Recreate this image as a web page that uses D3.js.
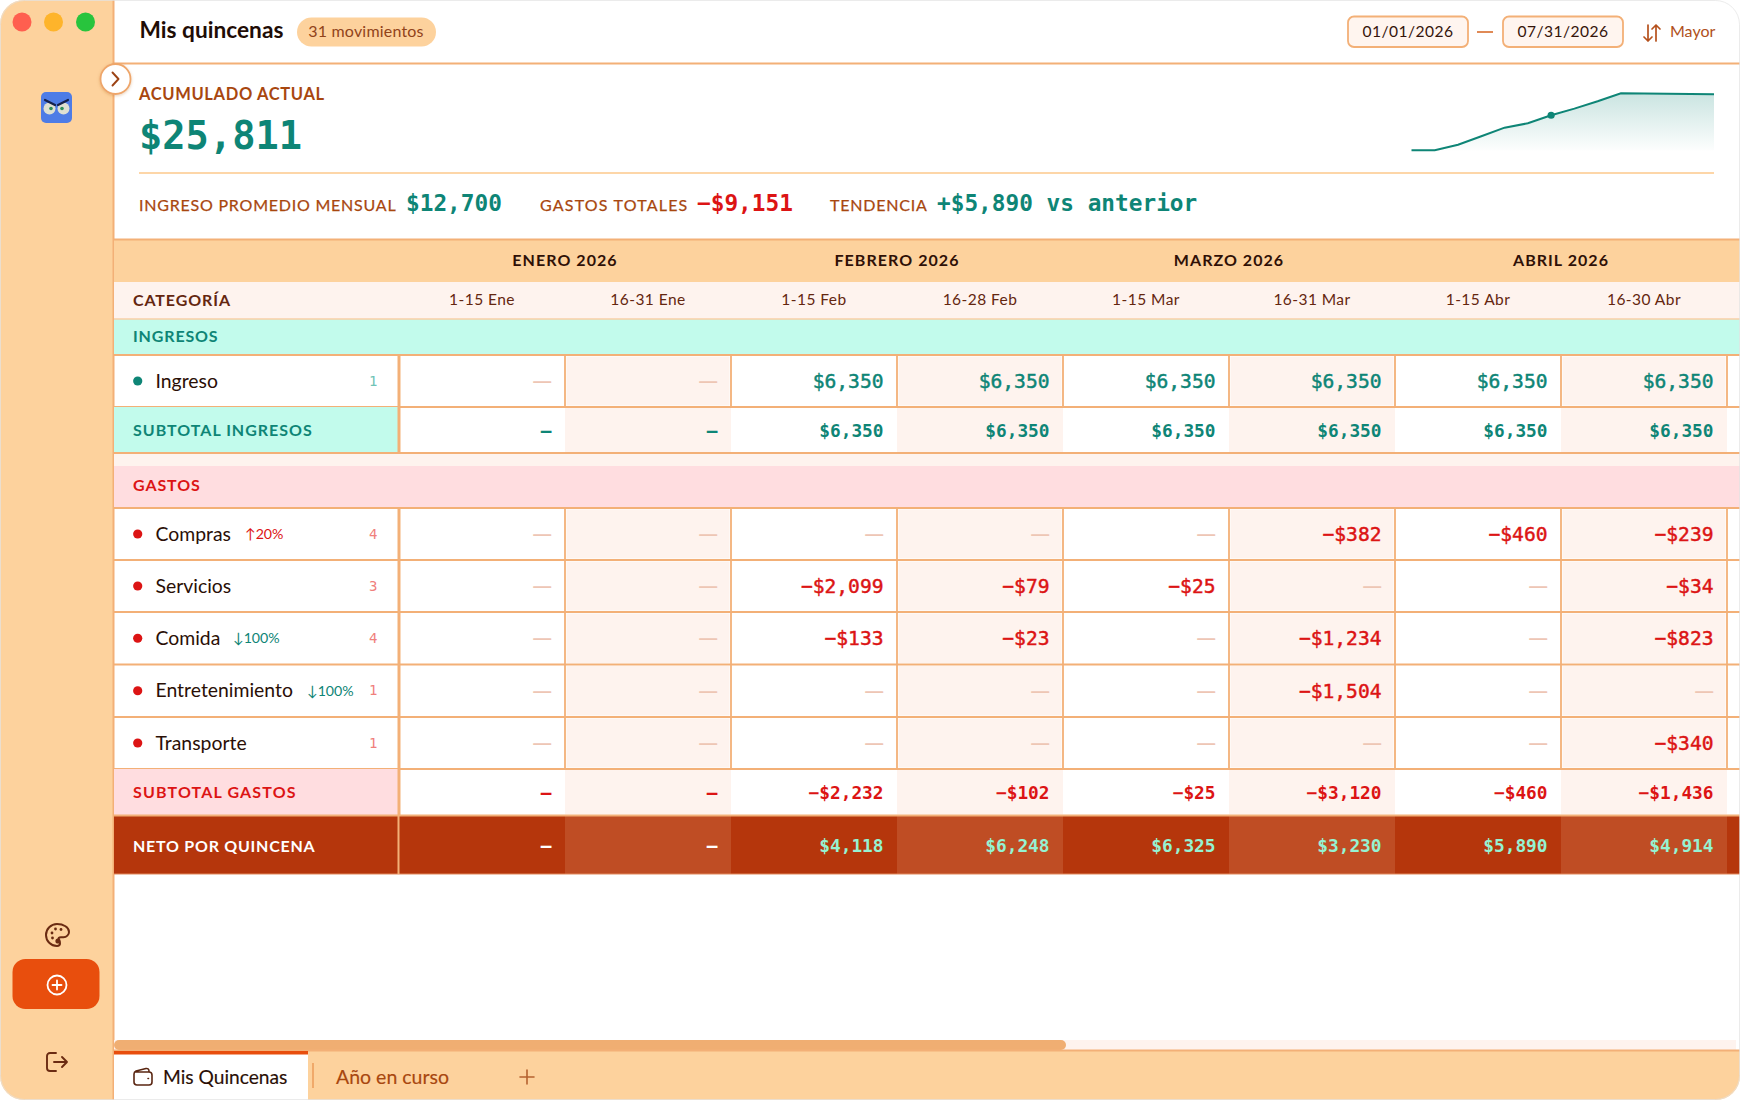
<!DOCTYPE html>
<html lang="es">
<head>
<meta charset="utf-8">
<title>Mis quincenas</title>
<script src="https://cdn.jsdelivr.net/npm/d3@7/dist/d3.min.js"></script>
<style>html,body{margin:0;padding:0;background:#fff}svg{display:block}</style>
</head>
<body>
<svg id="app" width="1740" height="1100" xmlns="http://www.w3.org/2000/svg"></svg>
<script>
// ---- data ----
const months = ["ENERO 2026", "FEBRERO 2026", "MARZO 2026", "ABRIL 2026"];
const fortnights = ["1-15 Ene", "16-31 Ene", "1-15 Feb", "16-28 Feb", "1-15 Mar", "16-31 Mar", "1-15 Abr", "16-30 Abr"];
const ingreso = [null, null, 6350, 6350, 6350, 6350, 6350, 6350];
const subtotalIngresos = [0, 0, 6350, 6350, 6350, 6350, 6350, 6350];
const compras = [null, null, null, null, null, -382, -460, -239];
const servicios = [null, null, -2099, -79, -25, null, null, -34];
const comida = [null, null, -133, -23, null, -1234, null, -823];
const entretenimiento = [null, null, null, null, null, -1504, null, null];
const transporte = [null, null, null, null, null, null, null, -340];
const subtotalGastos = [0, 0, -2232, -102, -25, -3120, -460, -1436];
const netoQuincena = [0, 0, 4118, 6248, 6325, 3230, 5890, 4914];
const acumulado = [0, 0, 4118, 10366, 16691, 19921, 25811, 30725, 36100, 42000, 41900, 41600, 41500, 41300];
const acumuladoActualIndex = 6;
const gastoRows = [
  {name: "Compras", vals: compras, count: 4, badge: "↑20%", dir: "up"},
  {name: "Servicios", vals: servicios, count: 3},
  {name: "Comida", vals: comida, count: 4, badge: "↓100%", dir: "down"},
  {name: "Entretenimiento", vals: entretenimiento, count: 1, badge: "↓100%", dir: "down"},
  {name: "Transporte", vals: transporte, count: 1}
];

// ---- palette / fonts ----
const SANS = "Lato, 'Noto Sans', sans-serif", MONO = "'DejaVu Sans Mono', monospace";
const PEACH = "#fdd29d", LINE = "#f3b077", TINT = "#fef3ee", TEAL = "#0e8576", RED = "#dc1414",
      MINT = "#c2fbec", ROSE = "#ffdde0", BROWN = "#a8470f", DARK = "#35140a", NET = "#b5360c", NET2 = "#bf4d24";

const svg = d3.select("#app");
const defs = svg.append("defs");
defs.append("clipPath").attr("id", "win").append("rect").attr("width", 1740).attr("height", 1100).attr("rx", 24);
const grad = defs.append("linearGradient").attr("id", "spark").attr("x1", 0).attr("y1", 0).attr("x2", 0).attr("y2", 1);
grad.append("stop").attr("offset", "0%").attr("stop-color", TEAL).attr("stop-opacity", 0.22);
grad.append("stop").attr("offset", "100%").attr("stop-color", TEAL).attr("stop-opacity", 0.01);
const shadow = defs.append("filter").attr("id", "sh").attr("x", "-30%").attr("y", "-30%").attr("width", "160%").attr("height", "160%");
shadow.append("feDropShadow").attr("dx", 0).attr("dy", 1).attr("stdDeviation", 1.5).attr("flood-color", "#b06020").attr("flood-opacity", .3);

const root = svg.append("g").attr("clip-path", "url(#win)");
root.append("rect").attr("width", 1740).attr("height", 1100).attr("fill", "#fff");

function rect(x, y, w, h, fill, o = {}) {
  return root.append("rect").attr("x", x).attr("y", y).attr("width", w).attr("height", h).attr("fill", fill)
    .attr("rx", o.rx || 0).attr("stroke", o.stroke || "none").attr("stroke-width", o.sw || 0);
}
function hline(x1, x2, y, c = LINE, w = 2) {
  root.append("line").attr("x1", x1).attr("x2", x2).attr("y1", y).attr("y2", y).attr("stroke", c).attr("stroke-width", w);
}
function vline(x, y1, y2, c = LINE, w = 2) {
  root.append("line").attr("x1", x).attr("x2", x).attr("y1", y1).attr("y2", y2).attr("stroke", c).attr("stroke-width", w);
}
function text(x, y, s, o = {}) {
  const t = root.append("text").attr("x", x).attr("y", y).text(s)
    .attr("font-family", o.font || SANS).attr("font-size", o.size || 16).attr("font-weight", o.weight || 400)
    .attr("fill", o.fill || DARK).attr("text-anchor", o.anchor || "start")
    .attr("letter-spacing", o.ls || 0).style("white-space", "pre");
  if (o.heavy) t.attr("stroke", o.fill || DARK).attr("stroke-width", o.heavy);
  return t;
}
function icon(d, tx, ty, c, w = 1.8, fill = "none") {
  return root.append("path").attr("d", d).attr("transform", `translate(${tx},${ty})`)
    .attr("fill", fill).attr("stroke", c).attr("stroke-width", w).attr("stroke-linecap", "round").attr("stroke-linejoin", "round");
}

// ---- sidebar ----
rect(0, 0, 113, 1100, PEACH);
vline(113.5, 0, 1100, LINE, 2);
[["#ff5f4f", 22], ["#feb42b", 53.5], ["#28c43d", 85.5]].forEach(([c, x]) =>
  root.append("circle").attr("cx", x).attr("cy", 22).attr("r", 9.5).attr("fill", c));

// owl logo
rect(41, 92, 31, 31, "#4e7ce6", {rx: 5});
[49.5, 63.5].forEach(x => {
  root.append("circle").attr("cx", x).attr("cy", 108.5).attr("r", 6).attr("fill", "#dfe0d2");
  root.append("circle").attr("cx", x + (x < 56 ? 1.5 : -1.5)).attr("cy", 108.5).attr("r", 1.8).attr("fill", "#2f8f5a");
});
icon("M0 0 L10 5", 45, 100, "#16214a", 2.2);
icon("M0 5 L10 0", 58, 100, "#16214a", 2.2);

// palette
icon("M11 0C4.9 0 0 4.9 0 11s4.9 11 11 11c1.8 0 3-1.2 3-2.8 0-.8-.3-1.4-.8-2-.5-.5-.8-1-.8-1.7 0-1.4 1.1-2.3 2.5-2.3h2.6c3 0 5.5-2.4 5.5-5.3C23 3.4 17.6 0 11 0z", 46, 924, "#6a2b12", 2);
[[6, 9], [9.5, 5], [15, 5.5], [6.5, 14], [12, 17]].forEach(([x, y], i) =>
  root.append("circle").attr("cx", 46 + x).attr("cy", 924 + y).attr("r", i === 4 ? 2.6 : 1.4).attr("fill", "#6a2b12"));

// add button
rect(12.5, 959, 87, 50, "#e84e0d", {rx: 13});
root.append("circle").attr("cx", 57).attr("cy", 985).attr("r", 9.5).attr("fill", "none").attr("stroke", "#fff").attr("stroke-width", 1.8);
icon("M-4.5 0H4.5M0 -4.5V4.5", 57, 985, "#fff", 1.8);

// logout
icon("M9 0H3C1.3 0 0 1.3 0 3V15C0 16.7 1.3 18 3 18H9M7 9H20M15 4L20 9L15 14", 47, 1053, "#6a2b12", 1.9);

// ---- header ----
text(139.5, 37.5, "Mis quincenas", {size: 22.7, weight: 700, fill: "#1f0d06"});
rect(297, 17.5, 139, 29, PEACH, {rx: 14.5});
text(366, 37, "31 movimientos", {size: 16, fill: "#91431a", anchor: "middle", ls: .2});
[[1348, "01/01/2026"], [1503, "07/31/2026"]].forEach(([x, s]) => {
  rect(x, 16.5, 120, 30.5, "#fff5ef", {rx: 6, stroke: LINE, sw: 1.8});
  text(x + 60, 37, s, {size: 15.6, fill: DARK, anchor: "middle", ls: .45});
});
hline(1477, 1493, 32, "#e08a56", 2);
icon("M5 1V17M1 13L5 17L9 13", 1643, 24, "#b5501c", 1.7);
icon("M13 17V1M9 5L13 1L17 5", 1643, 24, "#b5501c", 1.7);
text(1670, 37, "Mayor", {size: 16, fill: "#b0501c"});
hline(114, 1740, 63.5, LINE, 2);

// toggle button
root.append("circle").attr("cx", 115.5).attr("cy", 79).attr("r", 15).attr("fill", "#fff").attr("stroke", "#eea66b").attr("stroke-width", 1.8).attr("filter", "url(#sh)");
icon("M0 0L6 6.5L0 13", 112.5, 72.5, "#9c4315", 1.9);

// ---- KPI block ----
text(139, 99.5, "ACUMULADO ACTUAL", {size: 16.5, weight: 700, fill: BROWN, ls: .65});
text(139, 149, "$25,811", {font: MONO, size: 38.7, weight: 700, fill: TEAL});
hline(139, 1714, 173, "#fdd6a8", 2);
const statLabel = {size: 16, fill: BROWN, heavy: .25};
const statVal = {font: MONO, size: 22.75, weight: 700};
text(139, 211, "INGRESO PROMEDIO MENSUAL", {...statLabel, ls: .78});
text(406, 211, "$12,700", {...statVal, fill: TEAL});
text(540, 211, "GASTOS TOTALES", {...statLabel, ls: 1.2});
text(697, 211, "−$9,151", {...statVal, fill: RED});
text(830, 211, "TENDENCIA", {...statLabel, ls: .8});
text(937, 211, "+$5,890 vs anterior", {...statVal, fill: TEAL});

// sparkline
const sx = d3.scalePoint().domain(d3.range(acumulado.length)).range([1411.5, 1714]);
const sy = d3.scaleLinear().domain([0, 42000]).range([150.3, 93.3]);
const area = d3.area().x((d, i) => sx(i)).y0(150.5).y1(d => sy(d));
const line = d3.line().x((d, i) => sx(i)).y(d => sy(d));
root.append("path").datum(acumulado).attr("d", area).attr("fill", "url(#spark)");
root.append("path").datum(acumulado).attr("d", line).attr("fill", "none").attr("stroke", TEAL).attr("stroke-width", 2);
root.append("circle").attr("cx", sx(acumuladoActualIndex)).attr("cy", sy(acumulado[acumuladoActualIndex])).attr("r", 3.6).attr("fill", TEAL);

// ---- table ----
const LEFT = 114, COLX = 399, END = 1740;
const x = d3.scaleBand().domain(fortnights).range([COLX, 1727]);
const rowNames = ["month", "sub", "ing", "ingreso", "subI", "spacer", "gas", ...gastoRows.map(r => r.name), "subG", "net"];
const rowTops = [239, 282, 319, 355, 407, 453, 466, 508, 560, 612, 664.5, 717, 769, 815.5];
const rowEnds = [282, 319, 355, 407, 453, 466, 508, 560, 612, 664.5, 717, 769, 815.5, 874];
const yTop = d3.scaleOrdinal().domain(rowNames).range(rowTops);
const yEnd = d3.scaleOrdinal().domain(rowNames).range(rowEnds);
const W = END - LEFT;

rect(LEFT, yTop("month"), W, 43, PEACH);
hline(LEFT, END, 239.5, LINE, 2);
rect(LEFT, yTop("sub"), W, 37, TINT);
rect(LEFT, yTop("ing"), W, 36, MINT);
hline(LEFT, END, 319, "#f9cfa6", 1.5);
rect(LEFT, yTop("spacer"), W, 13, TINT);
rect(LEFT, yTop("gas"), W, 42, ROSE);

months.forEach((m, i) => {
  const cx = x(fortnights[i * 2]) + x.bandwidth();
  text(cx, 266, m, {size: 16, weight: 700, anchor: "middle", fill: "#2f1006", ls: 1.05});
});
text(133, 305.5, "CATEGORÍA", {size: 16, weight: 700, fill: "#64260f", ls: .9});
fortnights.forEach(f => text(x(f) + x.bandwidth() / 2, 305, f, {size: 15.5, fill: "#64260f", anchor: "middle", ls: .45}));
text(133, 342, "INGRESOS", {size: 16, weight: 700, fill: TEAL, ls: .85});
text(133, 491, "GASTOS", {size: 16, weight: 700, fill: RED, ls: .9});

const VALFS = 19.6, BOLDFS = 17.8, PAD = 13.5;
const money = d3.format(",");
const fmt = v => (v < 0 ? "−$" : "$") + money(Math.abs(v));

function detailRow(key, name, vals, count, color, countColor, badge, dir, badgeX) {
  const t = yTop(key), b = yEnd(key), my = (t + b) / 2;
  fortnights.forEach((f, i) => {
    if (i % 2) rect(x(f) + 1.5, t + 1.5, x.bandwidth() - 3, b - t - 3, TINT);
  });
  root.append("circle").attr("cx", 137.7).attr("cy", my).attr("r", 4.6).attr("fill", color);
  text(155.5, my + 6.5, name, {size: 19.4, fill: "#2a0f06"});
  text(377.5, my + 4.5, count, {font: MONO, size: 14, fill: countColor, anchor: "end"});
  if (badge) text(badgeX, my + 4.8, badge, {size: 14.2, fill: dir === "up" ? RED : TEAL});
  fortnights.forEach((f, i) => {
    const rx = x(f) + x.bandwidth() - PAD, v = vals[i];
    if (v === null) text(rx + 1.5, my + 9, "—", {size: 27, fill: "#eec6b4", anchor: "end"});
    else text(rx, my + 7, fmt(v), {font: MONO, size: VALFS, fill: v < 0 ? RED : TEAL, anchor: "end", heavy: .45});
  });
  vline(399, t, b, LINE, 3);
  fortnights.forEach(f => vline(x(f) + x.bandwidth(), t, b, LINE, 1.8));
  hline(LEFT, END, b, LINE, 1.8);
}

// Ingresos
hline(LEFT, END, 355, LINE, 1.8);
detailRow("ingreso", "Ingreso", ingreso, 1, TEAL, "#6fc3b6");

function subtotalRow(key, label, ls, vals, color, bg) {
  const t = yTop(key), b = yEnd(key), my = (t + b) / 2;
  rect(LEFT, t, 284, b - t, bg);
  fortnights.forEach((f, i) => { if (i % 2) rect(x(f), t + 1, x.bandwidth(), b - t - 2, TINT); });
  text(133, my + 5.5, label, {size: 16, weight: 700, fill: color, ls});
  vline(399, t, b, LINE, 3);
  vals.forEach((v, i) => {
    const rx = x(fortnights[i]) + x.bandwidth() - PAD;
    text(rx, my + 6.5, v === 0 ? "–" : fmt(v), {font: MONO, size: BOLDFS, weight: 700, fill: color, anchor: "end"});
  });
}
subtotalRow("subI", "SUBTOTAL INGRESOS", 1, subtotalIngresos, TEAL, MINT);
hline(LEFT, END, 453, LINE, 1.8);
hline(LEFT, END, 508, LINE, 1.8);

// Gastos
gastoRows.forEach(r => {
  const bx = {Compras: 245, Comida: 233, Entretenimiento: 307}[r.name];
  detailRow(r.name, r.name, r.vals, r.count, RED, "#f0807c", r.badge, r.dir, bx);
});
subtotalRow("subG", "SUBTOTAL GASTOS", 1.15, subtotalGastos, RED, ROSE);

// Neto
const nt = yTop("net"), nb = yEnd("net"), nm = (nt + nb) / 2;
rect(LEFT, nt, W, nb - nt, NET);
fortnights.forEach((f, i) => { if (i % 2) rect(x(f), nt, x.bandwidth(), nb - nt, NET2); });
hline(LEFT, END, nt, LINE, 1.8);
text(133, nm + 7.5, "NETO POR QUINCENA", {size: 16, weight: 700, fill: "#fff", ls: .75});
netoQuincena.forEach((v, i) => {
  const rx = x(fortnights[i]) + x.bandwidth() - PAD;
  text(rx, nm + 7.5, v === 0 ? "–" : fmt(v), {font: MONO, size: BOLDFS, weight: 700, fill: v === 0 ? "#fff" : "#95f2d2", anchor: "end"});
});
hline(LEFT, END, nb, "#e2875a", 1.2);
rect(397.5, 816, 2, 58, LINE);

// ---- scrollbar + tabs ----
rect(LEFT, 1040, 1622, 10, TINT);
rect(LEFT, 1040, 952, 10, "#f0ae72", {rx: 5});
rect(LEFT, 1051, W, 49, PEACH);
hline(LEFT, END, 1050.5, LINE, 2);
rect(LEFT, 1051, 194, 49, "#fff");
rect(LEFT, 1051, 194, 3.5, "#e84e0d");
icon("M2 4H15C16.7 4 18 5.3 18 7V14C18 15.7 16.7 17 15 17H3C1.3 17 0 15.7 0 14V6C0 4.5 .8 3.5 2 3L12 .5C13.5 .2 15 1 15 3V4M14 10.5H14.5", 134, 1068, "#5a2612", 1.6);
text(163, 1083.5, "Mis Quincenas", {size: 19.2, fill: "#2a0f06", heavy: .15});
vline(313, 1063, 1088, "#f0a96a", 2);
text(336, 1083.5, "Año en curso", {size: 19.5, fill: BROWN, heavy: .15});
icon("M-7 0H7M0 -7V7", 527, 1077, "#b5622f", 1.6);

// window edge
svg.append("rect").attr("x", .5).attr("y", .5).attr("width", 1739).attr("height", 1099).attr("rx", 24)
  .attr("fill", "none").attr("stroke", "#e3e3e3").attr("stroke-width", 1).attr("opacity", .7);
</script>
</body>
</html>
